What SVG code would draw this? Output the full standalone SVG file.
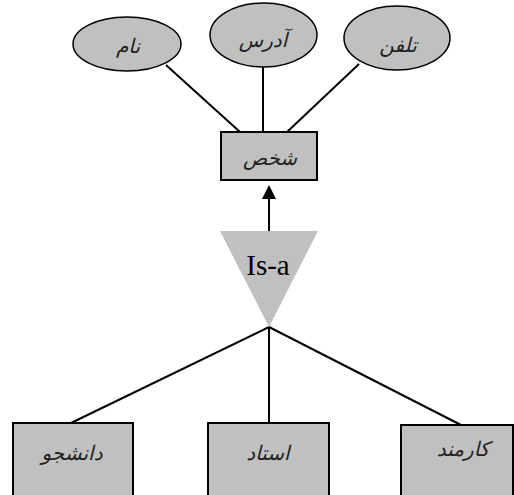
<svg xmlns="http://www.w3.org/2000/svg" width="514" height="495" viewBox="0 0 514 495">
<style>
.ent{fill:#c0c0c0;stroke:#000;stroke-width:2}
.att{fill:#c0c0c0;stroke:#000;stroke-width:1.5}
.lbl{font-family:"DejaVu Sans","Noto Sans",sans-serif;font-size:20px;font-style:italic;font-weight:300;fill:#222;text-anchor:middle;dominant-baseline:central}
.ln{stroke:#000;stroke-width:2;fill:none}
</style>
<defs>
<marker id="ah" markerWidth="14" markerHeight="14" refX="7" refY="7" orient="auto" markerUnits="userSpaceOnUse" viewBox="0 0 14 14">
<path d="M0,0 L14,7 L0,14 Z" fill="#000"/>
</marker>
</defs>
<rect width="514" height="495" fill="#fff"/>
<g id="connectors">
<line class="ln" x1="166" y1="65" x2="240" y2="132"/>
<line class="ln" x1="263" y1="67" x2="263" y2="132"/>
<line class="ln" x1="359" y1="64" x2="287" y2="132"/>
<line class="ln" x1="269" y1="231" x2="269" y2="192" marker-end="url(#ah)"/>
<line class="ln" x1="269" y1="327" x2="71" y2="423"/>
<line class="ln" x1="269" y1="327" x2="269" y2="423"/>
<line class="ln" x1="269" y1="327" x2="461" y2="425"/>
</g>
<g id="attr-name">
<ellipse class="att" cx="127" cy="44" rx="54" ry="27"/>
<text class="lbl" x="128" y="46">نام</text>
</g>
<g id="attr-address">
<ellipse class="att" cx="263.5" cy="35" rx="53.5" ry="32"/>
<text class="lbl" x="263" y="40">آدرس</text>
</g>
<g id="attr-phone">
<ellipse class="att" cx="397" cy="38" rx="53" ry="32"/>
<text class="lbl" x="398" y="45">تلفن</text>
</g>
<g id="person">
<rect class="ent" x="221" y="132" width="96" height="48"/>
<text class="lbl" x="270" y="158">شخص</text>
</g>
<g id="isa">
<polygon points="220,231 318,231 269,327" fill="#c0c0c0"/>
<text x="268" y="275" font-family="Liberation Serif,serif" font-size="29" text-anchor="middle" fill="#000">Is-a</text>
</g>
<g id="student">
<rect class="ent" x="13" y="423" width="120" height="80"/>
<text class="lbl" x="72" y="453">دانشجو</text>
</g>
<g id="professor">
<rect class="ent" x="208" y="423" width="121" height="80"/>
<text class="lbl" x="268" y="453">استاد</text>
</g>
<g id="employee">
<rect class="ent" x="401" y="425" width="112" height="80"/>
<text class="lbl" x="463" y="449">کارمند</text>
</g>
</svg>
